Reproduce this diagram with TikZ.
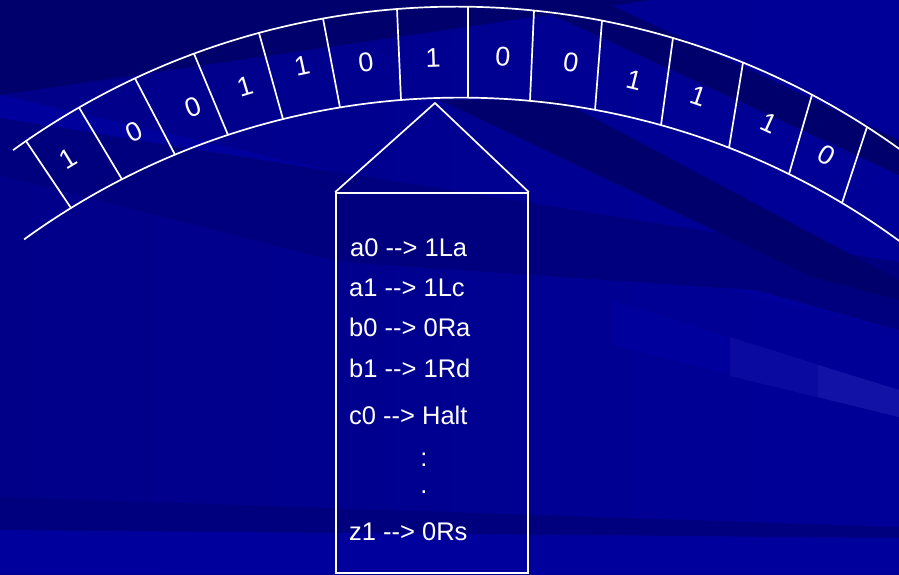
\documentclass[tikz,border=0pt]{standalone}
\usepackage{fontspec}
\setmainfont{Liberation Sans}
\usetikzlibrary{calc}
\definecolor{bgleft}{RGB}{0,0,137}
\definecolor{bgright}{RGB}{0,0,152}
\definecolor{bgdark}{RGB}{0,0,108}
\definecolor{bgmid}{RGB}{0,0,126}
\definecolor{bglight}{RGB}{0,0,156}
\definecolor{bgbright}{RGB}{10,10,160}
\definecolor{bgbrighter}{RGB}{18,18,166}
\tikzset{
  tapeline/.style={draw=white, line width=1.7pt},
  digit/.style={text=white, font=\fontsize{27}{27}\selectfont, inner sep=0pt},
  rule/.style={text=white, font=\fontsize{25.5}{25.5}\selectfont, inner sep=0pt, anchor=base west},
  dots/.style={text=white, font=\fontsize{25.5}{25.5}\selectfont, inner sep=0pt, anchor=base},
  headbox/.style={draw=white, line width=1.7pt, minimum width=192pt, minimum height=380pt, inner sep=0pt},
}
\begin{document}
\begin{tikzpicture}[x=1pt, y=-1pt]
\useasboundingbox (0,0) rectangle (899,574);
\begin{scope}
\clip (0,0) rectangle (899,574);
% background
\shade[left color=bgleft, right color=bgright] (0,0) rectangle (899,574);
\fill[bgdark] (0,0) -- (650,0) -- (0,95) -- cycle;
\fill[bglight] (0,95) -- (0,118) -- (899,330) -- (899,300) -- cycle;
\fill[bgmid] (0,118) -- (0,175) -- (340,262) -- (899,300) -- (899,262) -- cycle;
\fill[bgdark] (520,0) -- (600,0) -- (899,140) -- (899,175) -- cycle;
\fill[bgdark] (440,100) -- (560,100) -- (899,280) -- (899,318) -- cycle;
\fill[bgmid] (520,200) -- (520,225) -- (899,330) -- (899,300) -- cycle;
\fill[bglight] (613,301) -- (899,390) -- (899,417) -- (613,345) -- cycle;
\fill[bgbright] (730,337) -- (899,390) -- (899,417) -- (730,376) -- cycle;
\fill[bgbrighter] (818,365) -- (899,390) -- (899,417) -- (818,397) -- cycle;
\fill[bgmid] (0,497) -- (899,527) -- (899,538) -- (0,530) -- cycle;
\fill[bglight] (0,530) -- (899,538) -- (899,574) -- (0,574) -- cycle;
% tape arcs
\coordinate (oc) at (457,765);
\coordinate (ic) at (460.6,840.3);
\draw[tapeline] (oc) ++(-125.83:758.4) arc[start angle=-125.83, end angle=-50, radius=758.4];
\draw[tapeline] (ic) ++(-126.0:742.7) arc[start angle=-126.0, end angle=-50, radius=742.7];
\end{scope}
% cell dividers
\foreach \ox/\oy/\ix/\iy in {26/141/71/208, 79/107.5/122/179.3, 135/78.4/175/154.7, 194/53.7/228/135, 259/32.9/283/119.1, 323/18.5/340/107.5, 397/9/401/100, 468/6.7/468/97.6, 534/10.5/530/100.8, 602/20.6/595/109.9, 673/38/661/125.1, 743/62.6/729/147.8, 812/94.8/789/174.1, 867/127/842/203}
  \draw[tapeline] (\ox,\oy) -- (\ix,\iy);
% tape digits
\foreach \x/\y/\r/\d [count=\i] in {68/159/31.4/1, 134/132/25.9/0, 193/107/21.0/0, 245/86/16.7/1, 302/66/12.1/1, 366/62/7.2/0, 433/58/2.0/1, 503/57/-3.4/0, 571/62/-8.6/0, 634/80/-13.7/1, 699/96/-18.8/1, 769/123/-24.6/1, 827/155/-29.7/0}
  \node[digit, rotate=\r] (d\i) at (\x,\y) {\d};
% read/write head
\node[headbox] (box) at (432,383) {};
\coordinate (apex) at (435,103);
\draw[tapeline, line join=miter] (box.north west) -- (apex) -- (box.north east);
% rules
\node[rule] (r1) at (350,256) {a0 -{}-> 1La};
\node[rule] (r2) at (349,296) {a1 -{}-> 1Lc};
\node[rule] (r3) at (349,336) {b0 -{}-> 0Ra};
\node[rule] (r4) at (349,377) {b1 -{}-> 1Rd};
\node[rule] (r5) at (349,424) {c0 -{}-> Halt};
\node[dots] (v1) at (424,466) {:};
\node[dots] (v2) at (424,493) {.};
\node[rule] (r6) at (349,540) {z1 -{}-> 0Rs};
\end{tikzpicture}
\end{document}
